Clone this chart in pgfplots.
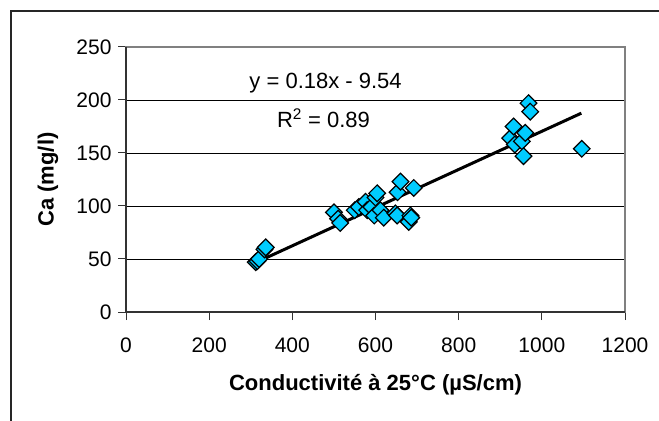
\documentclass[border=0pt]{standalone}
\usepackage{fontspec}
\setmainfont{Liberation Sans}
\usepackage{pgfplots}
\pgfplotsset{compat=1.18}
\definecolor{marker}{RGB}{0,204,255}
\definecolor{framegray}{RGB}{128,128,128}
\pgfplotstableread{
x y
312 47
316 48
320 50
333 59
336 61
500 94
510 88
515 84
550 96
560 99
576 104
580 96
590 99
600 108
604 112
597 91
612 96
620 89
648 93
652 91
653 113
660 123
680 85
684 91
686 89
692 117
924 164
932 175
935 158
952 161
956 147
960 169
968 197
972 189
1096 154
}\datatable
\begin{document}
\begin{tikzpicture}
\useasboundingbox (0,0) rectangle (659bp,421bp);
\draw[line width=1.5bp, color=black!85] (11bp,0) -- (11bp,410bp) -- (659bp,410bp);
\begin{axis}[
  at={(126bp,109bp)}, anchor=south west,
  width=499bp, height=265bp, scale only axis,
  xmin=0, xmax=1200, ymin=0, ymax=250,
  xtick={0,200,...,1200}, ytick={0,50,...,250},
  ymajorgrids, major grid style={black, line width=0.8bp},
  axis line style={framegray, line width=2bp},
  tick style={black!80, line width=1bp},
  tick align=outside, major tick length=8bp,
  xtick pos=bottom, ytick pos=left,
  /pgf/number format/assume math mode=true,
  /pgf/number format/1000 sep={},
  ticklabel style={font=\fontsize{21bp}{25bp}\selectfont},
  xticklabel style={yshift=-14bp},
  yticklabel style={xshift=-3bp},
  xlabel={\bfseries Conductivité à 25°C (µS/cm)},
  ylabel={\bfseries Ca (mg/l)},
  label style={font=\fontsize{22bp}{26bp}\selectfont},
  xlabel style={at={(axis description cs:0.5,-0.2755)}, anchor=center},
  ylabel style={at={(axis description cs:-0.1563,0.5)}, anchor=center},
  clip=false,
]
\draw[black!80, line width=1.5bp] (rel axis cs:0,1) -- (rel axis cs:0,0) -- (rel axis cs:1,0);
\addplot[only marks, mark=square*, mark size=5.9bp,
  mark options={rotate=45, fill=marker, draw=black, line width=1.2bp}]
  table[x=x, y=y] {\datatable};
\addplot[black, line width=3bp, no marks] coordinates {(305,45.36) (1095,187.56)};
\node[font=\fontsize{22bp}{26bp}\selectfont] at (axis cs:480,216) {y = 0.18x - 9.54};
\node[font=\fontsize{22bp}{26bp}\selectfont] at (axis cs:475,183) {R\textsuperscript{2} = 0.89};
\end{axis}
\end{tikzpicture}
\end{document}
